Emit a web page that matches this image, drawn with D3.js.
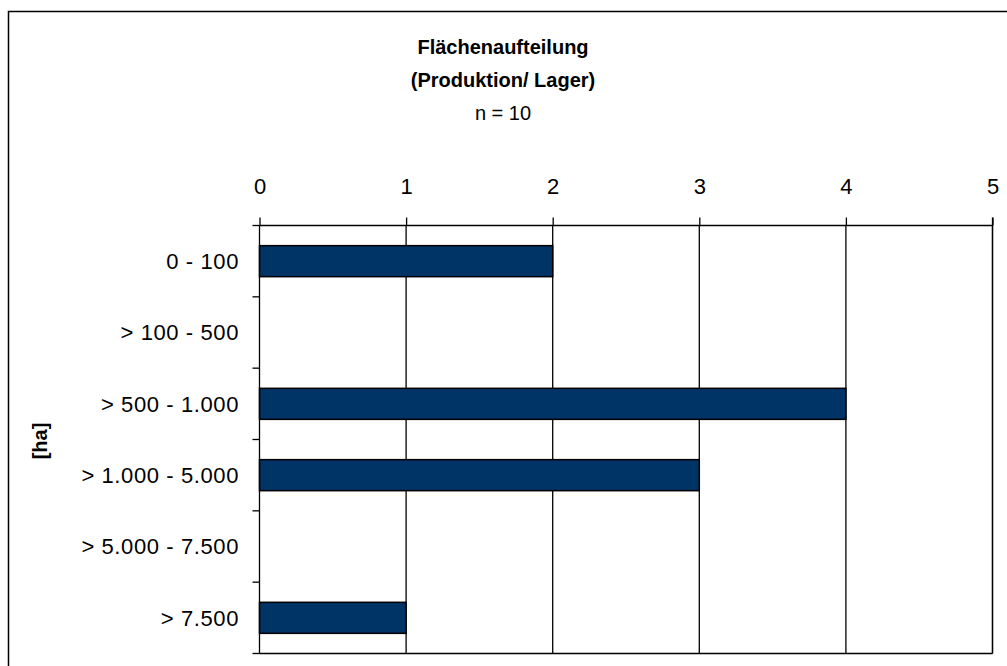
<!DOCTYPE html>
<meta charset="utf-8">
<html>
<style>
body { margin: 0; background: #fff; }
svg text { font-family: "Liberation Sans", Arial, sans-serif; fill: #000; }
</style>
<svg width="1007" height="666"></svg>
<script src="https://d3js.org/d3.v7.min.js"></script>
<script>
// categories and counts
var categories = ["0 - 100", "> 100 - 500", "> 500 - 1.000", "> 1.000 - 5.000", "> 5.000 - 7.500", "> 7.500"];
var counts = [2, 0, 4, 3, 0, 1];
var xTicks = [0, 1, 2, 3, 4, 5];
var titleLines = ["Flächenaufteilung", "(Produktion/ Lager)", "n = 10"];

var svg = d3.select("svg"),
    width = +svg.attr("width"),
    height = +svg.attr("height");

var plot = {left: 259.5, top: 225.5, right: 992.5, bottom: 653.5};

// outer frame
svg.append("rect")
    .attr("x", 8.5).attr("y", 11.5)
    .attr("width", 1010).attr("height", 700)
    .attr("fill", "none").attr("stroke", "#000").attr("stroke-width", 1.5);

var x = d3.scaleLinear().domain([0, 5]).range([plot.left, plot.right]);
var y = d3.scaleBand().domain(categories).range([plot.top, plot.bottom]).paddingInner(0.565).paddingOuter(0.2825);
var band = d3.scaleBand().domain(categories).range([plot.top, plot.bottom]);

// title
svg.append("g").selectAll("text")
    .data(titleLines)
    .enter().append("text")
      .attr("x", 503)
      .attr("y", function(d, i) { return 54 + i * 33; })
      .attr("text-anchor", "middle")
      .style("font-size", "20px")
      .style("font-weight", function(d, i) { return i < 2 ? "bold" : "normal"; })
      .text(function(d) { return d; });

// vertical gridlines
svg.append("g").selectAll("line")
    .data(xTicks.slice(1))
    .enter().append("line")
      .attr("x1", function(d) { return x(d); })
      .attr("x2", function(d) { return x(d); })
      .attr("y1", plot.top).attr("y2", plot.bottom)
      .attr("stroke", "#000").attr("stroke-width", 1.3);

// bars
svg.append("g").selectAll("rect")
    .data(categories.map(function(c, i) { return {cat: c, v: counts[i]}; }).filter(function(d) { return d.v > 0; }))
    .enter().append("rect")
      .attr("x", x(0))
      .attr("y", function(d) { return y(d.cat); })
      .attr("width", function(d) { return x(d.v) - x(0); })
      .attr("height", y.bandwidth())
      .attr("fill", "#003366")
      .attr("stroke", "#000")
      .attr("stroke-width", 1.5);

// top axis
var xAxis = svg.append("g")
    .attr("transform", "translate(0," + plot.top + ")")
    .call(d3.axisTop(x).tickValues(xTicks).tickFormat(d3.format("d")).tickSize(8).tickPadding(24));
xAxis.select(".domain").attr("stroke", "#000").attr("stroke-width", 1.3).attr("d", "M" + plot.left + ",0H" + plot.right);
xAxis.selectAll(".tick line").attr("stroke", "#000").attr("stroke-width", 1.3);
xAxis.selectAll(".tick text")
    .style("font-size", "22px")
    .style("font-family", "Liberation Sans, Arial, sans-serif");

// left axis: ticks on category boundaries
svg.append("g").selectAll("line")
    .data(categories.concat(["end"]))
    .enter().append("line")
      .attr("x1", plot.left - 7).attr("x2", plot.left)
      .attr("y1", function(d, i) { return plot.top + i * band.step(); })
      .attr("y2", function(d, i) { return plot.top + i * band.step(); })
      .attr("stroke", "#000").attr("stroke-width", 1.3);
svg.append("line")
    .attr("x1", plot.left).attr("x2", plot.left)
    .attr("y1", plot.top).attr("y2", plot.bottom)
    .attr("stroke", "#000").attr("stroke-width", 1.3);
svg.append("line")
    .attr("x1", plot.left).attr("x2", plot.right)
    .attr("y1", plot.bottom).attr("y2", plot.bottom)
    .attr("stroke", "#000").attr("stroke-width", 1.3);
svg.append("line")
    .attr("x1", plot.right).attr("x2", plot.right)
    .attr("y1", plot.top - 8).attr("y2", plot.bottom)
    .attr("stroke", "#000").attr("stroke-width", 1.3);

svg.append("g").selectAll("text")
    .data(categories)
    .enter().append("text")
      .attr("x", 239)
      .attr("y", function(d) { return band(d) + band.bandwidth() / 2; })
      .attr("dy", "0.35em")
      .attr("text-anchor", "end")
      .style("font-size", "22px")
      .style("letter-spacing", "0.6px")
      .text(function(d) { return d; });

// y axis title
svg.append("text")
    .attr("transform", "translate(40,441) rotate(-90)")
    .attr("text-anchor", "middle")
    .attr("dy", "0.35em")
    .style("font-size", "20px")
    .style("font-weight", "bold")
    .text("[ha]");
</script>
</html>
